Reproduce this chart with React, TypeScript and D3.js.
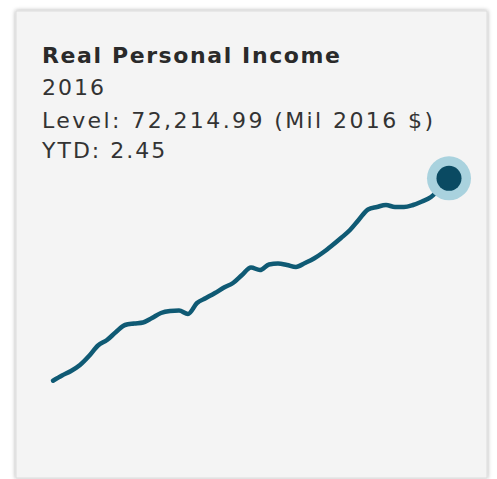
import React from "react";
import * as d3 from "d3";

const TITLE = "Real Personal Income";
const YEAR_LABEL = "2016";
const LEVEL_LABEL = "Level: 72,214.99 (Mil 2016 $)";
const YTD_LABEL = "YTD: 2.45";

// Series values (Mil 2016 $), evenly spaced periods, last = latest level
const periods: number[] = [
  0, 1, 2, 3, 4, 5, 6, 7, 8, 9, 10, 11, 12, 13, 14, 15, 16, 17, 18, 19, 20, 21,
  22, 23, 24, 25, 26, 27, 28, 29, 30, 31, 32, 33, 34, 35, 36, 37, 38, 39, 40,
  41, 42, 43, 44,
];
const values: number[] = [
  60071, 60383, 60653, 61013, 61553, 62183, 62513, 62993, 63413, 63503, 63563,
  63833, 64133, 64253, 64283, 64073, 64733, 65033, 65333, 65663, 65933, 66413,
  66863, 66713, 67043, 67103, 67013, 66893, 67133, 67403, 67763, 68183, 68633,
  69113, 69743, 70343, 70493, 70613, 70493, 70493, 70613, 70823, 71093, 71615,
  72214.99,
];

const W = 497;
const H = 479;

export default function App() {
  const data = periods.map((p, i) => ({ p, v: values[i] }));
  const x = d3
    .scaleLinear()
    .domain(d3.extent(periods) as [number, number])
    .range([53, 449]);
  const y = d3
    .scaleLinear()
    .domain(d3.extent(values) as [number, number])
    .range([380.7, 178.3]);
  const line = d3
    .line<{ p: number; v: number }>()
    .x((d) => x(d.p))
    .y((d) => y(d.v))
    .curve(d3.curveMonotoneX);
  const last = data[data.length - 1];

  return (
    <svg
      width={W}
      height={H}
      style={{ position: "absolute", left: 0, top: 0, background: "#ffffff" }}
    >
      <defs>
        <filter id="shadow" x="-10%" y="-10%" width="120%" height="120%">
          <feDropShadow dx="0" dy="0" stdDeviation="2.2" floodColor="#000" floodOpacity="0.35" />
        </filter>
      </defs>
      <rect
        x={16}
        y={11}
        width={471}
        height={467}
        fill="#f4f4f4"
        stroke="#dcdcdc"
        strokeWidth={1}
        filter="url(#shadow)"
      />
      <g fontFamily="'DejaVu Sans', Verdana, sans-serif" fill="#333">
        <text x={42} y={63} fontSize={22} fontWeight="bold" letterSpacing={1.6} fill="#2a2a2a">
          {TITLE}
        </text>
        <text x={42} y={95} fontSize={22} letterSpacing={2}>
          {YEAR_LABEL}
        </text>
        <text x={42} y={127.5} fontSize={22} letterSpacing={2.4}>
          {LEVEL_LABEL}
        </text>
        <text x={42} y={158} fontSize={22} letterSpacing={2}>
          {YTD_LABEL}
        </text>
      </g>
      <path
        d={line(data) || ""}
        fill="none"
        stroke="#0f5a74"
        strokeWidth={4.5}
        strokeLinejoin="round"
        strokeLinecap="round"
      />
      <circle cx={x(last.p)} cy={y(last.v)} r={22} fill="#a9d2de" />
      <circle cx={x(last.p)} cy={y(last.v)} r={12.5} fill="#0a4a62" />
    </svg>
  );
}
